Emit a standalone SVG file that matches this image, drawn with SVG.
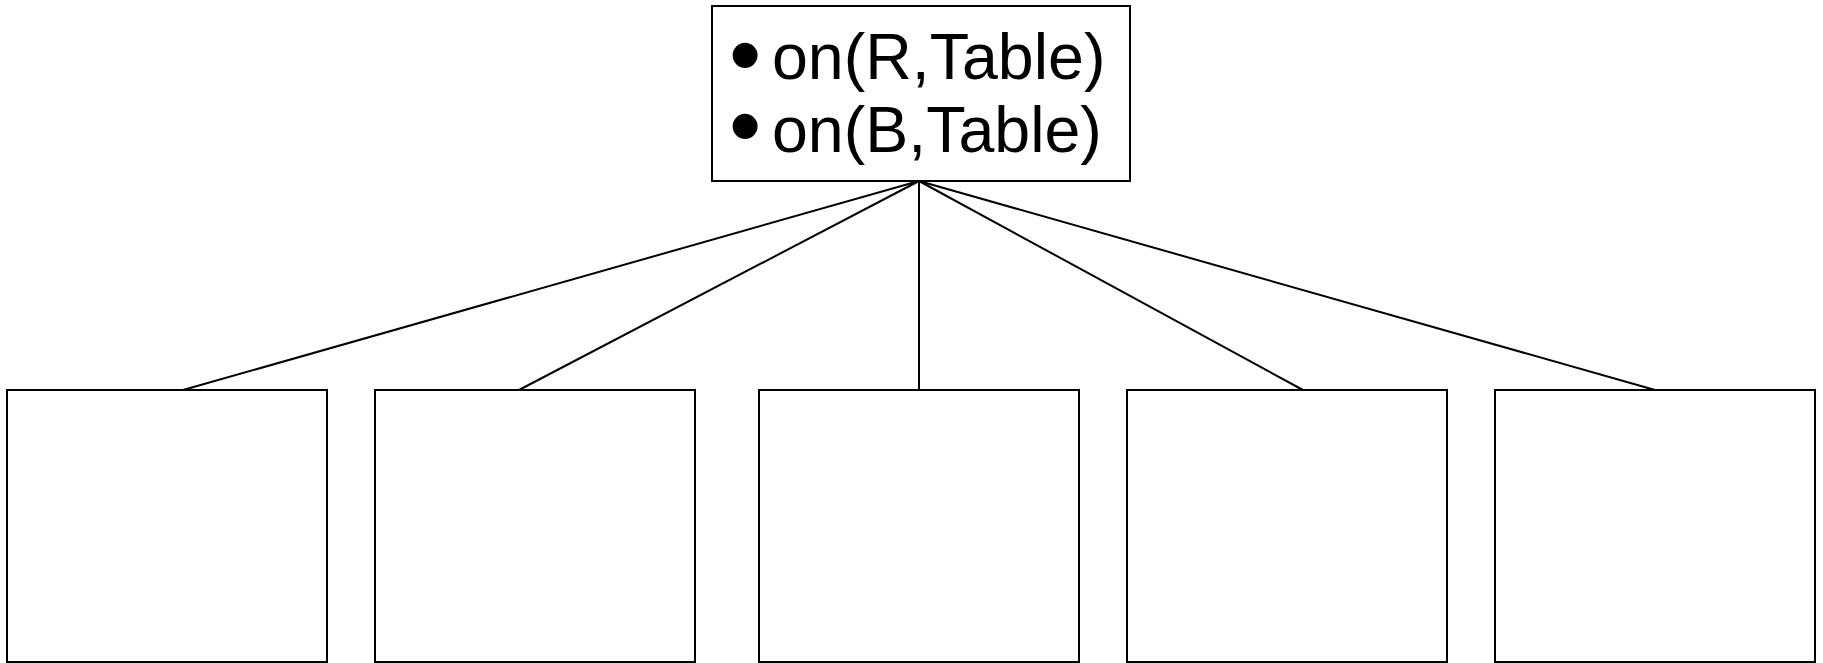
<svg xmlns="http://www.w3.org/2000/svg" width="1823" height="663" viewBox="0 0 1823 663">
<style>
.box{fill:#fff;stroke:#000;stroke-width:2}
.c{stroke:#000;stroke-width:2;fill:none}
.t{font-family:"Liberation Sans",Arial,sans-serif;font-size:64.5px;fill:#000}
.b{font-size:92px}
</style>
<rect width="1823" height="663" fill="#fff"/>
<g id="connectors">
<line class="c" x1="919" y1="181" x2="183" y2="390"/>
<line class="c" x1="919" y1="181" x2="519" y2="390"/>
<line class="c" x1="919" y1="181" x2="919" y2="390"/>
<line class="c" x1="919" y1="181" x2="1303" y2="390"/>
<line class="c" x1="919" y1="181" x2="1655" y2="390"/>
</g>
<g id="root">
<rect class="box" x="712" y="6" width="418" height="175"/>
<text class="t"><tspan class="b" x="729 729" y="86 157">••</tspan><tspan x="772" y="79">on(R,Table)</tspan><tspan x="772" y="151.5">on(B,Table)</tspan></text>
</g>
<g id="child1"><rect class="box" x="7" y="390" width="320" height="272"/></g>
<g id="child2"><rect class="box" x="375" y="390" width="320" height="272"/></g>
<g id="child3"><rect class="box" x="759" y="390" width="320" height="272"/></g>
<g id="child4"><rect class="box" x="1127" y="390" width="320" height="272"/></g>
<g id="child5"><rect class="box" x="1495" y="390" width="320" height="272"/></g>
</svg>
